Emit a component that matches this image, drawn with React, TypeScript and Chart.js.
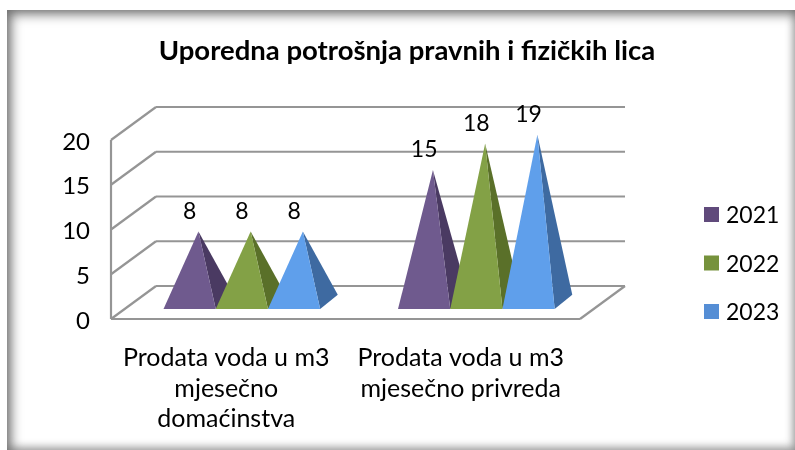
import React, { useEffect, useRef } from "react";
import { Chart, registerables } from "chart.js";

Chart.register(...registerables);

const categories = [
  ["Prodata voda u m3", "mjesečno", "domaćinstva"],
  ["Prodata voda u m3", "mjesečno privreda"],
];
const seriesNames = ["2021", "2022", "2023"];
const values2021 = [8, 15];
const values2022 = [8, 18];
const values2023 = [8, 19];
const frontColors = ["#6F5A8E", "#83A146", "#5F9FEB"];
const sideColors = ["#4A3A62", "#5A7029", "#3E6AA1"];
const legendColors = ["#604A7B", "#76923C", "#558ED5"];

const FONT = "Lato, Carlito, sans-serif";
const DX = 45;
const DY = 33;
const BAR_SHIFT = 13.6;

const pyramidPlugin = {
  id: "pyramid3d",
  beforeDatasetsDraw(chart: any) {
    const { ctx, chartArea: a, scales } = chart;
    const y = scales.y;
    ctx.save();
    // 3D walls and floor from the value scale
    ctx.strokeStyle = "#959595";
    ctx.lineWidth = 2.2;
    const line = (x1: number, y1: number, x2: number, y2: number) => {
      ctx.beginPath();
      ctx.moveTo(x1, y1);
      ctx.lineTo(x2, y2);
      ctx.stroke();
    };
    y.ticks.forEach((t: any) => {
      const py = y.getPixelForValue(t.value);
      line(a.left, py, a.left + DX, py - DY);
      line(a.left + DX, py - DY, a.right + DX, py - DY);
    });
    line(a.left, a.top, a.left, a.bottom);
    line(a.left, a.bottom, a.right, a.bottom);
    line(a.right, a.bottom, a.right + DX, a.bottom - DY);

    // pyramids, positioned by the bar elements
    chart.data.datasets.forEach((ds: any, i: number) => {
      chart.getDatasetMeta(i).data.forEach((bar: any) => {
        const half = bar.width / 2;
        const cx = bar.x + BAR_SHIFT;
        const fy = bar.base - 10;
        const bx = 17.6;
        const by = 14.3;
        const ax = cx + bx / 2;
        const ay = fy - by / 2 - (bar.base - bar.y) * 0.983;
        ctx.fillStyle = sideColors[i];
        ctx.beginPath();
        ctx.moveTo(cx + half, fy);
        ctx.lineTo(cx + half + bx, fy - by);
        ctx.lineTo(ax, ay);
        ctx.closePath();
        ctx.fill();
        ctx.fillStyle = frontColors[i];
        ctx.beginPath();
        ctx.moveTo(cx - half, fy);
        ctx.lineTo(cx + half, fy);
        ctx.lineTo(ax, ay);
        ctx.closePath();
        ctx.fill();
      });
    });
    // value labels
    ctx.fillStyle = "#000";
    ctx.font = `23px ${FONT}`;
    ctx.textAlign = "center";
    ctx.textBaseline = "middle";
    chart.data.datasets.forEach((ds: any, i: number) => {
      chart.getDatasetMeta(i).data.forEach((bar: any, j: number) => {
        const fy = bar.base - 10;
        const ay = fy - 7 - (bar.base - bar.y) * 0.983;
        ctx.fillText(String(ds.data[j]), bar.x + BAR_SHIFT, ay - 20);
      });
    });
    // legend
    ctx.textAlign = "left";
    chart.data.datasets.forEach((ds: any, i: number) => {
      const top = 188 + i * 48.5;
      ctx.fillStyle = legendColors[i];
      ctx.fillRect(a.right + 124, top + 19, 15, 15);
      ctx.fillStyle = "#000";
      ctx.fillText(ds.label, a.right + 146, top + 28);
    });
    ctx.restore();
    return false;
  },
};

export default function App() {
  const ref = useRef<HTMLCanvasElement>(null);
  useEffect(() => {
    document.body.style.margin = "0";
    const chart = new Chart(ref.current!, {
      type: "bar",
      data: {
        labels: categories,
        datasets: [
          { label: seriesNames[0], data: values2021, backgroundColor: legendColors[0] },
          { label: seriesNames[1], data: values2022, backgroundColor: legendColors[1] },
          { label: seriesNames[2], data: values2023, backgroundColor: legendColors[2] },
        ],
      },
      options: {
        animation: false,
        responsive: false,
        layout: { padding: 0 },
        datasets: { bar: { barPercentage: 1, categoryPercentage: 0.668 } },
        plugins: {
          legend: { display: false },
          tooltip: { enabled: false },
          title: {
            display: true,
            text: "Uporedna potrošnja pravnih i fizičkih lica",
            color: "#000",
            font: { family: FONT, size: 27.5, weight: "bold" },
            padding: { top: 35, bottom: 72 },
          },
        },
        scales: {
          x: {
            grid: { display: false, drawTicks: false },
            border: { display: false },
            afterFit: (s: any) => { s.height = 131; },
            ticks: {
              color: "#000",
              font: { family: FONT, size: 25, lineHeight: 1.22 },
              maxRotation: 0,
              autoSkip: false,
              padding: 24,
              labelOffset: -2,
            },
          },
          y: {
            min: 0,
            max: 20,
            grid: { display: false, drawTicks: false },
            border: { display: false },
            afterFit: (s: any) => { s.width = 92; },
            ticks: {
              stepSize: 5,
              color: "#000",
              font: { family: FONT, size: 24 },
              padding: 21,
              labelOffset: 2,
            },
          },
          rightSpace: {
            position: "right",
            grid: { display: false, drawTicks: false },
            border: { display: false },
            ticks: { display: false },
            afterFit: (s: any) => { s.width = 215; },
          },
        },
      } as any,
      plugins: [pyramidPlugin],
    });
    return () => chart.destroy();
  }, []);
  return (
    <div style={{ position: "fixed", left: 0, top: 0, width: 795, height: 450, overflow: "hidden", background: "#fff" }}>
      <div
        style={{
          position: "absolute",
          left: 7,
          top: 10,
          width: 788,
          height: 440,
          background: "#fff",
          boxShadow: "inset 4px 4px 12px #6f6f6f, inset -2px -3px 8px #b5b5b5",
        }}
      />
      <canvas ref={ref} width={776} height={450} style={{ position: "absolute", left: 19, top: 0 }} />
    </div>
  );
}
